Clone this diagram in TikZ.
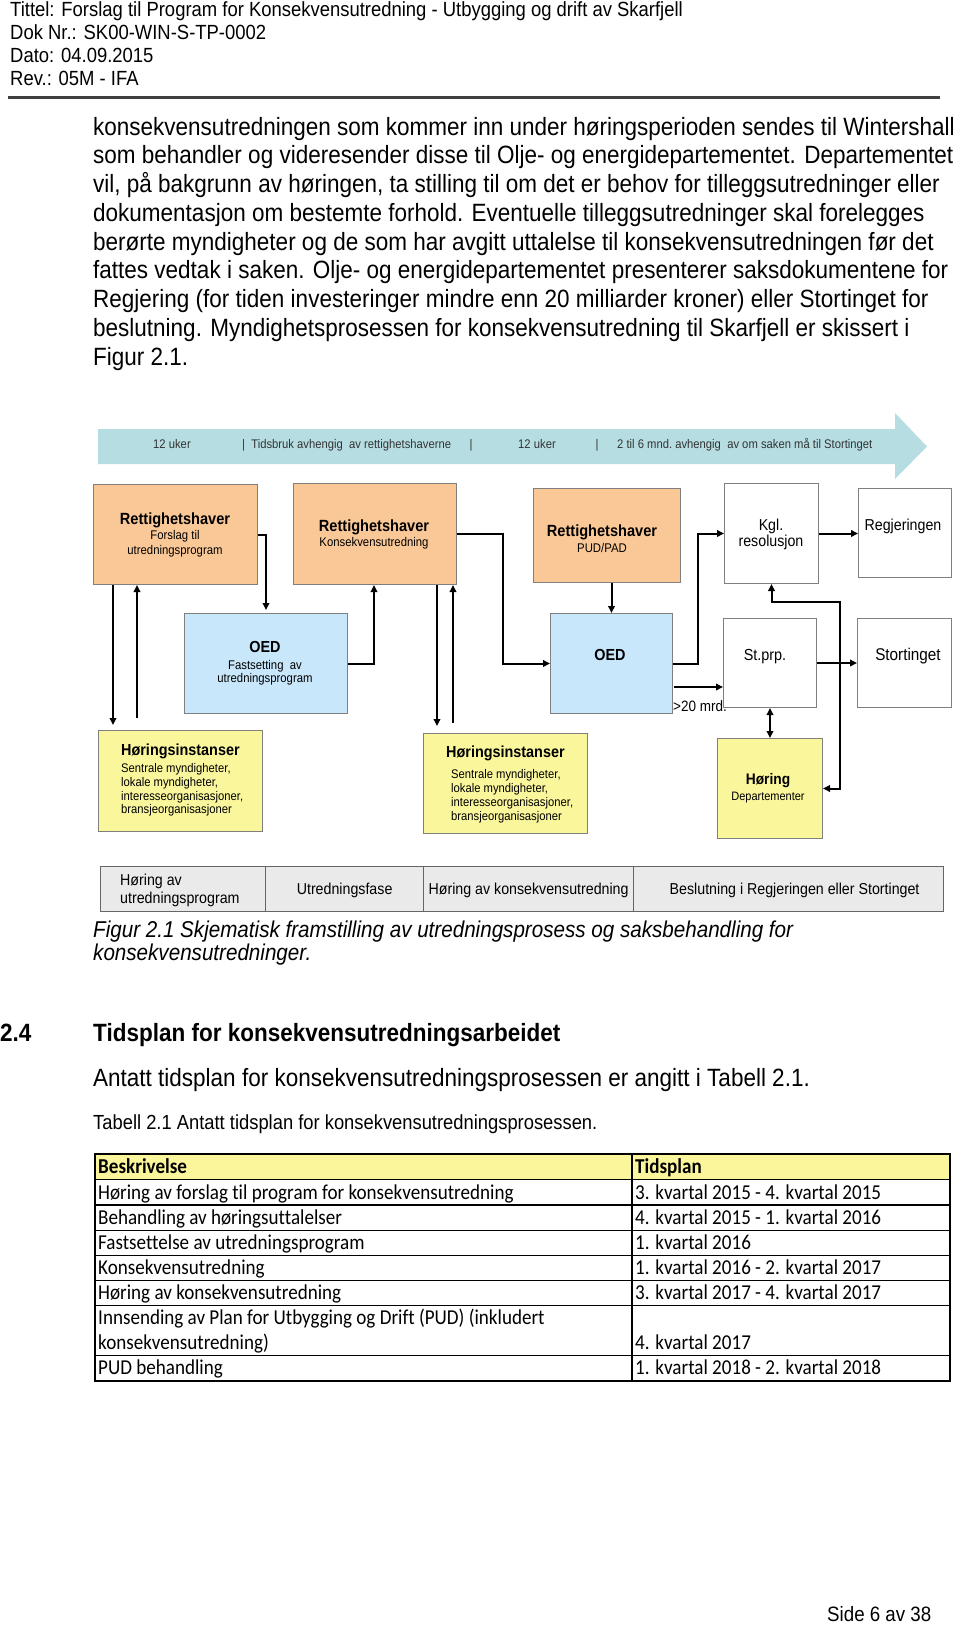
\documentclass[tikz,border=0pt]{standalone}
\usepackage{fontspec}
\setmainfont{Liberation Sans}[FakeStretch=0.9]
\newfontfamily\calfont{Carlito}[FakeStretch=0.9, Ligatures=NoCommon]
\usetikzlibrary{arrows.meta}
\newcommand\fsz[1]{\fontsize{#1}{#1}\selectfont}
\definecolor{rhfill}{HTML}{FAC896}
\definecolor{oedfill}{HTML}{C8E7FA}
\definecolor{horfill}{HTML}{FAF69C}
\definecolor{bandfill}{HTML}{B6DDE2}
\definecolor{boxline}{HTML}{7F7F7F}
\definecolor{phasefill}{HTML}{EAEAEA}
\definecolor{tabhead}{HTML}{FBF59B}
\definecolor{bandtext}{HTML}{333333}
\tikzset{
  boxbase/.style={draw=boxline, line width=1pt, inner sep=0pt, anchor=north west},
  rhbox/.style={boxbase, fill=rhfill},
  oedbox/.style={boxbase, fill=oedfill},
  horbox/.style={boxbase, fill=horfill},
  wbox/.style={boxbase, fill=white},
  phasebox/.style={draw=black!60, line width=1.2pt, fill=phasefill, inner sep=0pt, anchor=north west, minimum height=45pt},
  arr/.style={line width=2pt, -{Triangle[length=7pt,width=6.5pt]}},
  biarr/.style={line width=2pt, {Triangle[length=7pt,width=6.5pt]}-{Triangle[length=7pt,width=6.5pt]}},
  ttl/.style={inner sep=0pt, anchor=mid, font=\fsz{16.2}\bfseries},
  subtxt/.style={inner sep=0pt, anchor=mid, font=\fsz{12.6}},
  wtxt/.style={inner sep=0pt, anchor=mid, font=\fsz{15.8}},
  bandtxt/.style={inner sep=0pt, anchor=mid, font=\fsz{12.5}, text=bandtext},
  ptxt/.style={inner sep=0pt, anchor=mid, font=\fsz{15.8}},
  hdr/.style={inner sep=0pt, anchor=base west, font=\fsz{20.5}},
  bodytxt/.style={inner sep=0pt, anchor=base west, font=\fsz{25}},
  captxt/.style={inner sep=0pt, anchor=base west, font=\fsz{22.9}\itshape},
  tabtxt/.style={inner sep=0pt, anchor=base west, font=\calfont\fsz{21.2}},
  tabbold/.style={tabtxt, font=\calfont\fsz{21.2}\bfseries},
}
\begin{document}
\begin{tikzpicture}[x=1pt,y=-1pt]
\useasboundingbox (0,0) rectangle (960,1625);
\fill[white] (0,0) rectangle (960,1625);

% ---------- page header ----------
\node[hdr] (hd1) at (10,16) {Tittel: Forslag til Program for Konsekvensutredning - Utbygging og drift av Skarfjell};
\node[hdr] (hd2) at (10,39.5) {Dok Nr.: SK00-WIN-S-TP-0002};
\node[hdr] (hd3) at (10,62.5) {Dato: 04.09.2015};
\node[hdr] (hd4) at (10,85.5) {Rev.: 05M - IFA};
\draw[line width=2.5pt, black!75] (8,97.5) -- (940,97.5);

% ---------- body text ----------
\node[bodytxt] (b1) at (93,135) {konsekvensutredningen som kommer inn under høringsperioden sendes til Wintershall};
\node[bodytxt] (b2) at (93,163.8) {som behandler og videresender disse til Olje- og energidepartementet. Departementet};
\node[bodytxt] (b3) at (93,192.5) {vil, på bakgrunn av høringen, ta stilling til om det er behov for tilleggsutredninger eller};
\node[bodytxt] (b4) at (93,221.3) {dokumentasjon om bestemte forhold. Eventuelle tilleggsutredninger skal forelegges};
\node[bodytxt] (b5) at (93,250) {berørte myndigheter og de som har avgitt uttalelse til konsekvensutredningen før det};
\node[bodytxt] (b6) at (93,278.8) {fattes vedtak i saken. Olje- og energidepartementet presenterer saksdokumentene for};
\node[bodytxt] (b7) at (93,307.6) {Regjering (for tiden investeringer mindre enn 20 milliarder kroner) eller Stortinget for};
\node[bodytxt] (b8) at (93,336.3) {beslutning. Myndighetsprosessen for konsekvensutredning til Skarfjell er skissert i};
\node[bodytxt] (b9) at (93,365.1) {Figur 2.1.};

% ---------- time band ----------
\fill[bandfill] (98,429) -- (895,429) -- (895,413) -- (927,446.5) -- (895,479) -- (895,464) -- (98,464) -- cycle;
\node[bandtxt] (t1) at (172,446) {12 uker};
\node[bandtxt, anchor=mid west] (t2) at (242,446) {|\ \ Tidsbruk avhengig\ \ av rettighetshaverne};
\node[bandtxt] (t3) at (471,446) {|};
\node[bandtxt] (t4) at (537,446) {12 uker};
\node[bandtxt] (t5) at (597,446) {|};
\node[bandtxt, anchor=mid west] (t6) at (617,446) {2 til 6 mnd.\ avhengig\ \ av om saken må til Stortinget};

% ---------- boxes ----------
\node[rhbox, minimum width=164pt, minimum height=100pt] (rh1) at (93,484) {};
\node[rhbox, minimum width=163pt, minimum height=101pt] (rh2) at (293,483) {};
\node[rhbox, minimum width=147pt, minimum height=94pt] (rh3) at (533,488) {};
\node[wbox, minimum width=94pt, minimum height=100pt] (kgl) at (724,483) {};
\node[wbox, minimum width=93pt, minimum height=89pt] (regj) at (858,488) {};
\node[oedbox, minimum width=163pt, minimum height=100pt] (oed1) at (184,613) {};
\node[oedbox, minimum width=122pt, minimum height=100pt] (oed2) at (550,613) {};
\node[wbox, minimum width=93pt, minimum height=89pt] (stprp) at (723,618) {};
\node[wbox, minimum width=94pt, minimum height=89pt] (stort) at (857,618) {};
\node[horbox, minimum width=164pt, minimum height=101pt] (hor1) at (98,730) {};
\node[horbox, minimum width=164pt, minimum height=100pt] (hor2) at (423,733) {};
\node[horbox, minimum width=105pt, minimum height=100pt] (hdep) at (717,738) {};

% ---------- box texts ----------
\node[ttl] (rh1a) at (175,522) {Rettighetshaver};
\node[subtxt] (rh1b) at (175,537) {Forslag til};
\node[subtxt] (rh1c) at (175,552) {utredningsprogram};
\node[ttl] (rh2a) at (374,529) {Rettighetshaver};
\node[subtxt] (rh2b) at (374,544) {Konsekvensutredning};
\node[ttl] (rh3a) at (602,534) {Rettighetshaver};
\node[subtxt] (rh3b) at (602,550) {PUD/PAD};
\node[ttl, font=\fsz{16}\bfseries] (oed1a) at (265,650) {OED};
\node[subtxt] (oed1b) at (265,667) {Fastsetting\ \ av};
\node[subtxt] (oed1c) at (265,680) {utredningsprogram};
\node[wtxt] (kgla) at (771,528) {Kgl.};
\node[wtxt] (kglb) at (771,544) {resolusjon};
\node[wtxt] (regja) at (903,528) {Regjeringen};
\node[ttl, font=\fsz{16}\bfseries] (oed2a) at (610,658) {OED};
\node[wtxt, font=\fsz{16}] (stprpa) at (765,658) {St.prp.};
\node[wtxt, font=\fsz{17}] (storta) at (908,658) {Stortinget};
\node[ttl, font=\fsz{15.3}\bfseries] (hdepa) at (768,782) {Høring};
\node[subtxt, font=\fsz{12.2}] (hdepb) at (768,798) {Departementer};
\node[ttl, anchor=mid west, font=\fsz{16}\bfseries] (hor1a) at (121,753) {Høringsinstanser};
\node[subtxt, anchor=mid west, font=\fsz{12.5}] (hor1b) at (121,770) {Sentrale myndigheter,};
\node[subtxt, anchor=mid west, font=\fsz{12.5}] (hor1c) at (121,784) {lokale myndigheter,};
\node[subtxt, anchor=mid west, font=\fsz{12.5}] (hor1d) at (121,798) {interesseorganisasjoner,};
\node[subtxt, anchor=mid west, font=\fsz{12.5}] (hor1e) at (121,811) {bransjeorganisasjoner};
\node[ttl, anchor=mid west, font=\fsz{16}\bfseries] (hor2a) at (446,755) {Høringsinstanser};
\node[subtxt, anchor=mid west, font=\fsz{12.5}] (hor2b) at (451,776) {Sentrale myndigheter,};
\node[subtxt, anchor=mid west, font=\fsz{12.5}] (hor2c) at (451,790) {lokale myndigheter,};
\node[subtxt, anchor=mid west, font=\fsz{12.5}] (hor2d) at (451,804) {interesseorganisasjoner,};
\node[subtxt, anchor=mid west, font=\fsz{12.5}] (hor2e) at (451,818) {bransjeorganisasjoner};
\node[wtxt, anchor=mid west, font=\fsz{15}] (mrd) at (673,709) {>20 mrd.};

% ---------- connector helper coordinates ----------
\coordinate (xa) at (266,0);
\coordinate (xl1) at (113,0);
\coordinate (xl2) at (137,0);
\coordinate (xb) at (374,0);
\coordinate (xr1) at (437,0);
\coordinate (xr2) at (453,0);
\coordinate (xc) at (503,0);
\coordinate (xd) at (698,0);
\coordinate (ye) at (0,687);
\coordinate (cf) at (840,602);

% ---------- connectors ----------
\draw[arr, shorten >=3pt] (rh1.east) -| (xa |- oed1.north);
\draw[arr, shorten >=5pt] (xl1 |- rh1.south) -- (xl1 |- hor1.north);
\draw[arr, shorten <=12pt] (xl2 |- hor1.north) -- (xl2 |- rh1.south);
\draw[arr] (oed1.east) -| (xb |- rh2.south);
\draw[arr, shorten >=7pt] (xr1 |- rh2.south) -- (xr1 |- hor2.north);
\draw[arr, shorten <=10pt] (xr2 |- hor2.north) -- (xr2 |- rh2.south);
\draw[arr] (rh2.east) -- (xc |- rh2.east) -- (xc |- oed2.west) -- (oed2.west);
\draw[arr] (oed2.north |- rh3.south) -- (oed2.north);
\draw[arr] (oed2.east) -| (xd |- kgl.west) -- (kgl.west);
\draw[arr] ([xshift=1pt]oed2.east |- ye) -- (stprp.west |- ye);
\draw[arr] (kgl.east) -- (regj.west |- kgl.east);
\draw[arr] (stprp.east) -- (stort.west |- stprp.east);
\draw[biarr] (stprp.south) -- (hdep.north);
\draw[biarr] (hdep.east) -- (cf |- hdep.east) -- (cf) -- (kgl.south |- cf) -- (kgl.south);

% ---------- phase bar ----------
\node[phasebox, minimum width=165pt] (ph1) at (100,866) {};
\node[phasebox, minimum width=158pt] (ph2) at (265,866) {};
\node[phasebox, minimum width=210pt] (ph3) at (423,866) {};
\node[phasebox, minimum width=310pt] (ph4) at (633,866) {};
\node[ptxt, anchor=mid west] (ph1a) at (120,883) {Høring av};
\node[ptxt, anchor=mid west] (ph1b) at (120,901) {utredningsprogram};
\node[ptxt] (ph2a) at ([yshift=-3pt]ph2.center) {Utredningsfase};
\node[ptxt] (ph3a) at ([yshift=-3pt]ph3.center) {Høring av konsekvensutredning};
\node[ptxt] (ph4a) at ([xshift=6pt,yshift=-3pt]ph4.center) {Beslutning i Regjeringen eller Stortinget};

% ---------- caption ----------
\node[captxt] (cap1) at (93,937) {Figur 2.1 Skjematisk framstilling av utredningsprosess og saksbehandling for};
\node[captxt] (cap2) at (93,960) {konsekvensutredninger.};

% ---------- section ----------
\node[bodytxt, font=\fsz{25}\bfseries] (secn) at (0,1041) {2.4};
\node[bodytxt, font=\fsz{25}\bfseries] (sect) at (93,1041) {Tidsplan for konsekvensutredningsarbeidet};
\node[bodytxt] (intro) at (93,1086) {Antatt tidsplan for konsekvensutredningsprosessen er angitt i Tabell 2.1.};
\node[bodytxt, font=\fsz{20.4}] (tcap) at (93,1129) {Tabell 2.1 Antatt tidsplan for konsekvensutredningsprosessen.};

% ---------- table ----------
\fill[tabhead] (95,1154) rectangle (950,1179.5);
\foreach \yy in {1179.5,1205,1230.5,1255.5,1280.5,1305.5,1355.5}
  \draw[line width=1.6pt] (95,\yy) -- (950,\yy);
\draw[line width=1.6pt] (632,1154) -- (632,1380.5);
\draw[line width=2pt] (95,1154) rectangle (950,1380.5);
\node[tabbold] (c0a) at (98,1173.5) {Beskrivelse};
\node[tabbold] (c0b) at (635,1173.5) {Tidsplan};
\node[tabtxt] (c1a) at (98,1199) {Høring av forslag til program for konsekvensutredning};
\node[tabtxt] (c1b) at (635,1199) {3. kvartal 2015 - 4. kvartal 2015};
\node[tabtxt] (c2a) at (98,1224.5) {Behandling av høringsuttalelser};
\node[tabtxt] (c2b) at (635,1224.5) {4. kvartal 2015 - 1. kvartal 2016};
\node[tabtxt] (c3a) at (98,1249.5) {Fastsettelse av utredningsprogram};
\node[tabtxt] (c3b) at (635,1249.5) {1. kvartal 2016};
\node[tabtxt] (c4a) at (98,1274.5) {Konsekvensutredning};
\node[tabtxt] (c4b) at (635,1274.5) {1. kvartal 2016 - 2. kvartal 2017};
\node[tabtxt] (c5a) at (98,1299.5) {Høring av konsekvensutredning};
\node[tabtxt] (c5b) at (635,1299.5) {3. kvartal 2017 - 4. kvartal 2017};
\node[tabtxt] (c6a) at (98,1324.5) {Innsending av Plan for Utbygging og Drift (PUD) (inkludert};
\node[tabtxt] (c6c) at (98,1349.5) {konsekvensutredning)};
\node[tabtxt] (c6b) at (635,1349.5) {4. kvartal 2017};
\node[tabtxt] (c7a) at (98,1374.5) {PUD behandling};
\node[tabtxt] (c7b) at (635,1374.5) {1. kvartal 2018 - 2. kvartal 2018};

% ---------- page number ----------
\node[bodytxt, font=\fsz{20.8}] (pg) at (827,1621) {Side 6 av 38};
\end{tikzpicture}
\end{document}
